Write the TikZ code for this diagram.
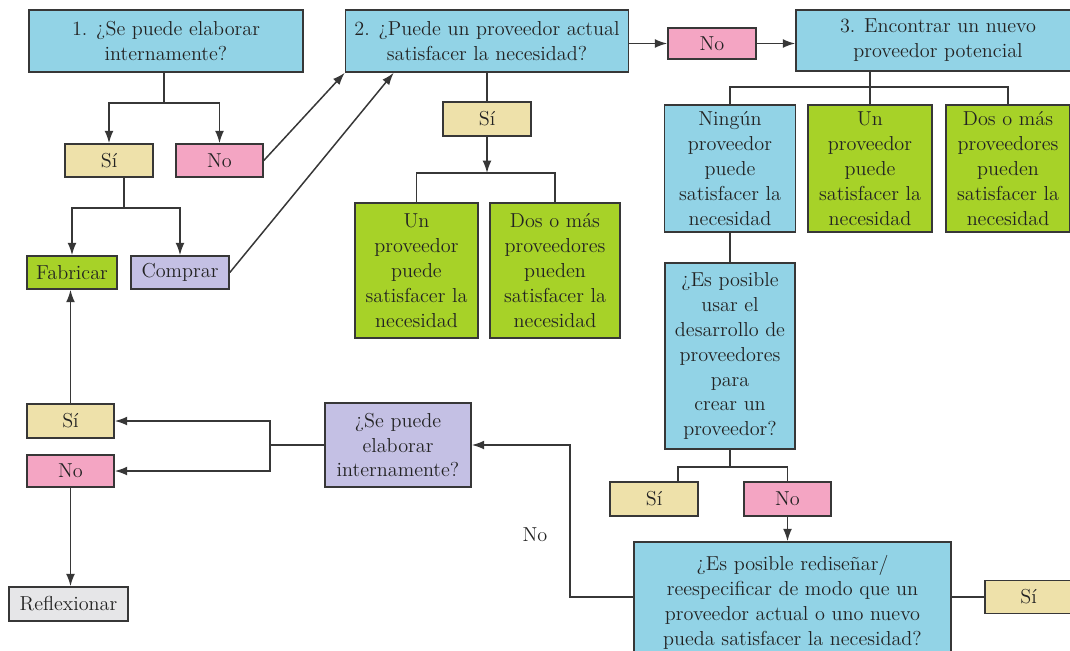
\documentclass[tikz,border=0pt]{standalone}
\usetikzlibrary{arrows.meta}

\definecolor{qcyan}{RGB}{146,211,230}
\definecolor{qpink}{RGB}{244,165,195}
\definecolor{qtan}{RGB}{238,225,170}
\definecolor{qgreen}{RGB}{167,210,40}
\definecolor{qlilac}{RGB}{196,192,228}
\definecolor{qgray}{RGB}{230,230,232}
\definecolor{linecol}{RGB}{55,55,55}
\definecolor{txtcol}{RGB}{35,35,35}

\begin{document}
\begin{tikzpicture}[x=0.02cm,y=-0.02cm,
	font=\fontsize{11.5}{14.2}\selectfont,
	box/.style={draw=linecol,line width=0.9pt,inner sep=0pt,align=center,text=txtcol},
	sz/.style 2 args={minimum width=#1*0.02cm,minimum height=#2*0.02cm},
	link/.style={draw=linecol,line width=0.85pt},
	arr/.style={link,-{Latex[length=7pt,width=5pt]}}]
\useasboundingbox (0,0) rectangle (1070,650);
% top row
\node[box,fill=qcyan,sz={274}{62}] (q1) at (166,41) {1. ¿Se puede elaborar\\internamente?};
\node[box,fill=qcyan,sz={283}{62}] (q2) at (487,41) {2. ¿Puede un proveedor actual\\satisfacer la necesidad?};
\node[box,fill=qpink,sz={88}{31}] (no1) at (712,43.5) {No};
\node[box,fill=qcyan,sz={284}{61}] (q3) at (938,40.5) {3. Encontrar un nuevo\\proveedor potencial};
% left branch
\node[box,fill=qtan,sz={88}{33}] (si1) at (109,160.5) {Sí};
\node[box,fill=qpink,sz={87}{33}] (no2) at (219.5,160.5) {No};
\node[box,fill=qgreen,sz={90}{33}] (fab) at (72,272.5) {Fabricar};
\node[box,fill=qlilac,sz={98}{33}] (comp) at (180,272.5) {Comprar};
% middle branch
\node[box,fill=qtan,sz={88}{34}] (si2) at (487,119) {Sí};
\node[box,fill=qgreen,sz={123}{135}] (un1) at (416.5,270.5) {Un\\proveedor\\puede\\satisfacer la\\necesidad};
\node[box,fill=qgreen,sz={130}{135}] (dos1) at (555,270.5) {Dos o más\\proveedores\\pueden\\satisfacer la\\necesidad};
% right branch
\node[box,fill=qcyan,sz={131}{127}] (ning) at (730,168.5) {Ningún\\proveedor\\puede\\satisfacer la\\necesidad};
\node[box,fill=qgreen,sz={124}{127}] (un2) at (870,168.5) {Un\\proveedor\\puede\\satisfacer la\\necesidad};
\node[box,fill=qgreen,sz={124}{127}] (dos2) at (1008,168.5) {Dos o más\\proveedores\\pueden\\satisfacer la\\necesidad};
\node[box,fill=qcyan,sz={130}{186}] (desa) at (730,356) {¿Es posible\\usar el\\desarrollo de\\proveedores\\para\\crear un\\proveedor?};
\node[box,fill=qtan,sz={88}{34}] (si3) at (654,499) {Sí};
\node[box,fill=qpink,sz={87}{34}] (no3) at (787.5,499) {No};
\node[box,fill=qcyan,sz={317}{120}] (redi) at (792.5,602) {¿Es posible rediseñar/\\reespecificar de modo que un\\proveedor actual o uno nuevo\\pueda satisfacer la necesidad?};
\node[box,fill=qtan,sz={87}{33}] (si4) at (1028.5,597) {Sí};
% bottom left
\node[box,fill=qlilac,sz={146}{84}] (q4) at (398,445) {¿Se puede\\elaborar\\internamente?};
\node[box,fill=qtan,sz={87}{34}] (si5) at (70.5,421) {Sí};
\node[box,fill=qpink,sz={87}{32}] (no5) at (70.5,471) {No};
\node[box,fill=qgray,sz={119}{34}] (refl) at (68.5,604) {Reflexionar};
\node[text=txtcol] (lblno) at (535,535) {No};

\coordinate (b1) at (164,103);
\coordinate (b2) at (124,208);
\coordinate (b3) at (487,173);
\coordinate (b4) at (870,87);
\coordinate (b5) at (730,467);
\coordinate (b6) at (570,520);
\coordinate (b7) at (270,445);

\draw[link] (q1.south -| b1) -- (b1);
\draw[arr] (b1) -| (si1.north);
\draw[arr] (b1) -| (no2.north);
\draw[link] (si1.south -| b2) -- (b2);
\draw[arr] (b2) -| (fab.north);
\draw[arr] (b2) -| (comp.north);
\draw[arr] (no2.east) -- (q2.south west);
\draw[arr] (comp.east) -- ([xshift=0.98cm]q2.south west);
\draw[arr] (q2.east |- no1.west) -- (no1.west);
\draw[arr] (no1.east) -- (no1.east -| q3.west);
\draw[link] (q2.south) -- (si2.north);
\draw[arr] (si2.south) -- (b3);
\draw[link] (b3) -| (un1.north);
\draw[link] (b3) -| (dos1.north);
\draw[link] (q3.south -| b4) -- (b4);
\draw[link] (b4) -| (ning.north);
\draw[link] (b4) -| (un2.north);
\draw[link] (b4) -| (dos2.north);
\draw[link] (ning.south) -- (desa.north);
\draw[link] (desa.south) -- (b5);
\draw[link] (b5) -| ([xshift=0.48cm]si3.north);
\draw[link] (b5) -| (no3.north);
\draw[arr] (no3.south) -- (no3.south |- redi.north);
\draw[link] (si4.west -| redi.east) -- (si4.west);
\draw[arr] (si4.west -| redi.west) -| (b6) |- (q4.east);
\draw[link] (q4.west) -- (b7);
\draw[arr] (b7) |- (si5.east);
\draw[arr] (b7) |- (no5.east);
\draw[arr] (si5.north) -- (si5.north |- fab.south);
\draw[arr] (no5.south) -- (no5.south |- refl.north);
\end{tikzpicture}
\end{document}
